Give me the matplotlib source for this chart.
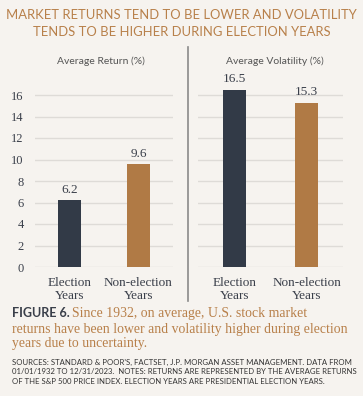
import matplotlib
matplotlib.use("Agg")
import matplotlib.pyplot as plt

categories = ["Election\nYears", "Non-election\nYears"]
avg_return = [6.2, 9.6]
avg_volatility = [16.5, 15.3]
y_ticks = [0, 2, 4, 6, 8, 10, 12, 14, 16]

bg = "#f6f3ef"
dark = "#323a47"
tan = "#b07a45"
title_col = "#b8804a"
grid_col = "#dedbd7"
serif = ["Liberation Serif", "DejaVu Serif"]
sans = ["Lato", "DejaVu Sans"]

# tick labels and bar values are serif; everything else names its family
plt.rcParams["font.family"] = serif

W, H = 363, 396
fig = plt.figure(figsize=(W / 100, H / 100), dpi=100, facecolor=bg)


def fx(px):
    return px / W


def fy(py):
    return 1 - py / H


ytop = 17.0
y0_px, y16_px = 267, 95
unit = (y0_px - y16_px) / 16
ax_h = ytop * unit

panels = [
    (35, 173, avg_return, "Average Return (%)", True),
    (198, 343, avg_volatility, "Average Volatility (%)", False),
]

for left, right, vals, head, show_y in panels:
    ax = fig.add_axes([fx(left), (H - y0_px) / H, (right - left) / W, ax_h / H])
    ax.set_facecolor(bg)
    x = range(len(vals))
    bars = ax.bar(x, vals, width=0.32, color=[dark, tan], zorder=3)
    for b, v in zip(bars, vals):
        ax.annotate(f"{v:.1f}", (b.get_x() + b.get_width() / 2, v),
                    xytext=(0, 3), textcoords="offset points",
                    ha="center", va="bottom", fontsize=9.5,
                    family=serif, color="#3a3f4a")
    ax.set_xlim(-0.5, 1.5)
    ax.set_ylim(0, ytop)
    ax.set_yticks(y_ticks)
    for t in y_ticks:
        ax.axhline(t, color=grid_col, lw=1, zorder=1)
    ax.set_xticks(list(x))
    ax.set_xticklabels(categories, fontsize=9.5, color="#3a3f4a",
                       linespacing=1.1, family=serif)
    if show_y:
        ax.set_yticklabels([str(t) for t in y_ticks], fontsize=9,
                           color="#3a3f4a", family=serif)
    else:
        ax.set_yticklabels([])
    ax.tick_params(length=0, labelfontfamily=serif)
    ax.tick_params(axis="x", pad=7)
    ax.tick_params(axis="y", pad=8)
    for s in ax.spines.values():
        s.set_visible(False)
    fig.text(fx((left + right) / 2 - 3 if show_y else (left + right) / 2 + 4),
             fy(61), head, ha="center", va="center",
             fontsize=7.5, family=sans, color="#555555")

# divider between the two panels
fig.add_artist(plt.Line2D([fx(188), fx(188)], [fy(47), fy(301)],
                          color="#8a8a8a", lw=1.2))

fig.text(0.5, fy(15), "MARKET RETURNS TEND TO BE LOWER AND VOLATILITY",
         ha="center", va="center", fontsize=9.4, family=sans, color=title_col)
fig.text(0.5, fy(32), "TENDS TO BE HIGHER DURING ELECTION YEARS",
         ha="center", va="center", fontsize=9.4, family=sans, color=title_col)

fig.text(fx(12), fy(313), "FIGURE 6.", ha="left", va="center",
         fontsize=9, family=sans, weight="bold", color="#3a3f4a")
fig.text(fx(72), fy(313), "Since 1932, on average, U.S. stock market",
         ha="left", va="center", fontsize=9.9, color=title_col)
fig.text(fx(12), fy(329), "returns have been lower and volatility higher during election",
         ha="left", va="center", fontsize=9.9, color=title_col)
fig.text(fx(12), fy(344), "years due to uncertainty.",
         ha="left", va="center", fontsize=9.9, color=title_col)

notes = [
    "SOURCES: STANDARD & POOR'S, FACTSET, J.P. MORGAN ASSET MANAGEMENT. DATA FROM",
    "01/01/1932 TO 12/31/2023.  NOTES: RETURNS ARE REPRESENTED BY THE AVERAGE RETURNS",
    "OF THE S&P 500 PRICE INDEX. ELECTION YEARS ARE PRESIDENTIAL ELECTION YEARS.",
]
for i, line in enumerate(notes):
    fig.text(fx(12), fy(362 + i * 9.6), line, ha="left", va="center",
             fontsize=5.6, family=sans, color="#333333")

fig.savefig("out.png", dpi=100, facecolor=bg)
